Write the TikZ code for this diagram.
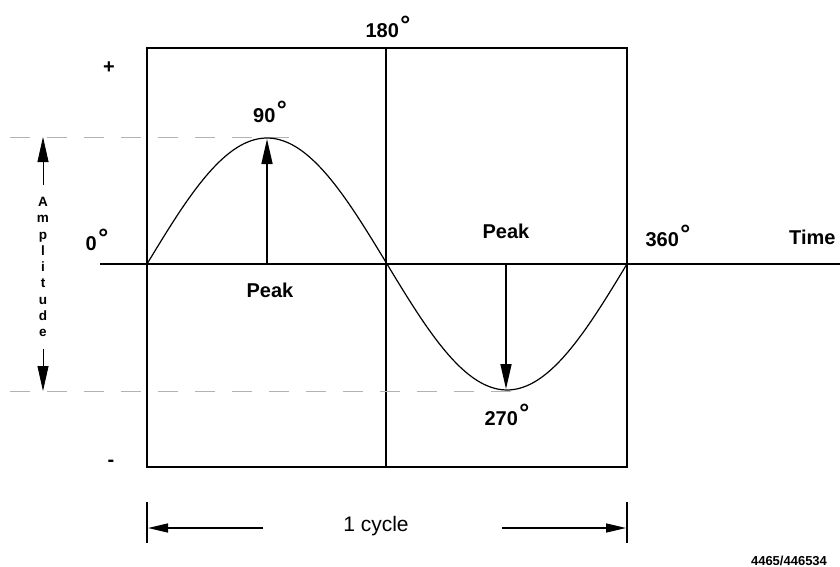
\documentclass[tikz,border=0pt]{standalone}
\usepackage{fontspec}
\setmainfont{Liberation Sans}
\usetikzlibrary{arrows.meta}
\newcommand\degsym{\kern1.5pt\raisebox{4pt}{\fontsize{25}{25}\selectfont °}}
\begin{document}
\begin{tikzpicture}[x=1pt,y=-1pt,
  lbl/.style={font=\fontsize{20}{20}\selectfont\bfseries, inner sep=0pt},
  plain/.style={font=\fontsize{21}{21}\selectfont, inner sep=0pt},
  frame/.style={line width=2pt},
  guide/.style={gray!60, line width=1pt, dash pattern=on 20pt off 17pt},
  bigtip/.style={-{Triangle[length=25pt,width=11pt]}},
  smalltip/.style={-{Triangle[length=20pt,width=9pt]}},
]
\useasboundingbox (0,0) rectangle (840,567);
\fill[white] (0,0) rectangle (840,567);

% frame and axis
\draw[frame] (147,48) rectangle (627,467);
\draw[frame] (386,48) -- (386,467);
\coordinate (axL) at (100,264);
\coordinate (axR) at (840,264);
\draw[frame] (axL) -- (axR);

% guides
\coordinate (g1a) at (10,137); \coordinate (g1b) at (295,137);
\coordinate (g2a) at (10,391); \coordinate (g2b) at (527,391);
\draw[guide] (g1a) -- (g1b);
\draw[guide] (g2a) -- (g2b);

% sine
\draw[line width=1.2pt, domain=0:360, samples=120, smooth]
  plot ({147+\x*4/3},{264-126*sin(\x)});

% peak arrows
\coordinate (p1b) at (267,264); \coordinate (p1t) at (267,139);
\coordinate (p2b) at (506,264); \coordinate (p2t) at (506,389);
\draw[bigtip, line width=1.6pt] (p1b) -- (p1t);
\draw[bigtip, line width=1.6pt] (p2b) -- (p2t);

% amplitude
\node[font=\fontsize{13.5}{16.25}\selectfont\bfseries, align=center, inner xsep=0pt, inner ysep=12pt] (amp) at (43,267)
  {A\\m\\p\\l\\i\\t\\u\\d\\e};
\coordinate (ampT) at (43,137);
\coordinate (ampB) at (43,391);
\draw[bigtip, line width=0.8pt] (amp.north) -- (ampT);
\draw[bigtip, line width=0.8pt] (amp.south) -- (ampB);

% labels
\node[lbl] (t180) at (388,27) {180\degsym};
\node[lbl] (plus) at (109,68) {+};
\node[lbl] (minus) at (111,463) {-};
\node[lbl] (t90) at (270,112) {90\degsym};
\node[lbl] (t0) at (97,240) {0\degsym};
\node[lbl] (t360) at (668,236) {360\degsym};
\node[lbl, anchor=west] (time) at (789,237) {Time};
\node[lbl] (peak1) at (270,290) {Peak};
\node[lbl] (peak2) at (506,231) {Peak};
\node[lbl] (t270) at (507,415) {270\degsym};

% cycle
\coordinate (tkL1) at (147,502); \coordinate (tkL2) at (147,543);
\coordinate (tkR1) at (627,502); \coordinate (tkR2) at (627,543);
\draw[frame] (tkL1) -- (tkL2);
\draw[frame] (tkR1) -- (tkR2);
\node[plain] (cyc) at (376,526) {1 cycle};
\coordinate (aL1) at (263,528); \coordinate (aL2) at (148,528);
\coordinate (aR1) at (502,528); \coordinate (aR2) at (626,528);
\draw[smalltip, line width=1.5pt] (aL1) -- (aL2);
\draw[smalltip, line width=1.5pt] (aR1) -- (aR2);

\node[font=\fontsize{13}{13}\selectfont\bfseries, inner sep=0pt] (fn) at (789,561) {4465/446534};
\end{tikzpicture}
\end{document}
